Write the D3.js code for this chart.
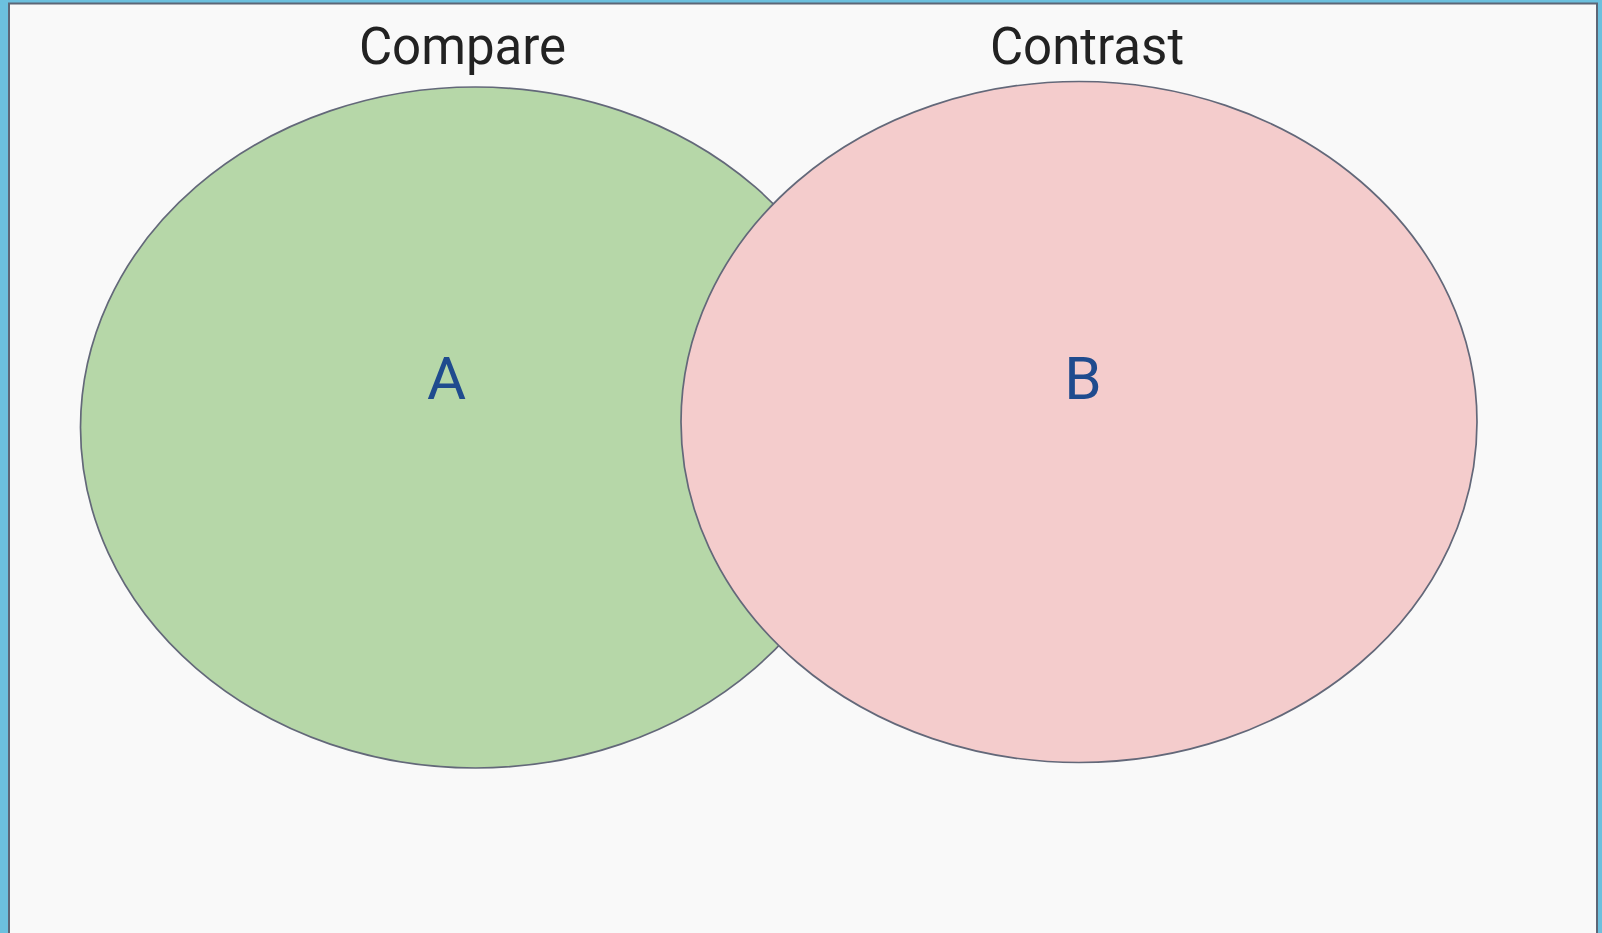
<!DOCTYPE html>
<html>
<head>
<meta charset="utf-8">
<script src="https://cdn.jsdelivr.net/npm/d3@7"></script>
<style>
  html, body { margin: 0; padding: 0; background: #6cc0de; overflow: hidden; }
  svg { display: block; }
</style>
</head>
<body>
<script>
// ---- data ----
const setNames = ["A", "B"];
const setTitles = ["Compare", "Contrast"];
const setSizes = [1, 1];          // relative set sizes (equal)

// ---- layout ----
const W = 1602, H = 933;
const svg = d3.select("body").append("svg").attr("width", W).attr("height", H);

svg.append("rect")
  .attr("x", 9).attr("y", 3.5)
  .attr("width", 1588).attr("height", H + 20)
  .attr("fill", "#f9f9f9")
  .attr("stroke", "#5d6676").attr("stroke-width", 2);

// chart-unit positions of the sets along x (0..1) and y
const x = d3.scaleLinear().domain([0, 1]).range([475.5, 1079]);
const y = d3.scaleLinear().domain([0, 1]).range([427.5, 422]);
const rxScale = [395, 398];
const ryScale = d3.scaleLinear().domain([0, 1]).range([0, 340.5]);

const fills = ["#b6d7a8", "#f4cccc"];
const labelOffsetX = [-29, 4];
const titleDx = [-13, 8];
const titleY = [64, 64];

const sets = setNames.map((n, i) => ({
  name: n, title: setTitles[i], size: setSizes[i], idx: i
}));

const g = svg.append("g");
g.selectAll("ellipse").data(sets).join("ellipse")
  .attr("cx", d => x(d.idx))
  .attr("cy", d => y(d.idx))
  .attr("rx", d => rxScale[d.idx] * Math.sqrt(d.size))
  .attr("ry", d => ryScale(Math.sqrt(d.size)))
  .attr("fill", (d, i) => fills[i])
  .attr("stroke", "#636879")
  .attr("stroke-width", 1.7);

g.selectAll("text.title").data(sets).join("text")
  .attr("class", "title")
  .attr("x", d => x(d.idx) + titleDx[d.idx])
  .attr("y", d => titleY[d.idx])
  .attr("text-anchor", "middle")
  .attr("font-family", "Roboto, sans-serif")
  .attr("font-size", 51)
  .attr("fill", "#222222")
  .text(d => d.title);

g.selectAll("text.label").data(sets).join("text")
  .attr("class", "label")
  .attr("x", d => x(d.idx) + labelOffsetX[d.idx])
  .attr("y", 398.5)
  .attr("text-anchor", "middle")
  .attr("font-family", "Roboto, sans-serif")
  .attr("font-size", 60)
  .attr("fill", "#1f4b8e")
  .text(d => d.name);
</script>
</body>
</html>
